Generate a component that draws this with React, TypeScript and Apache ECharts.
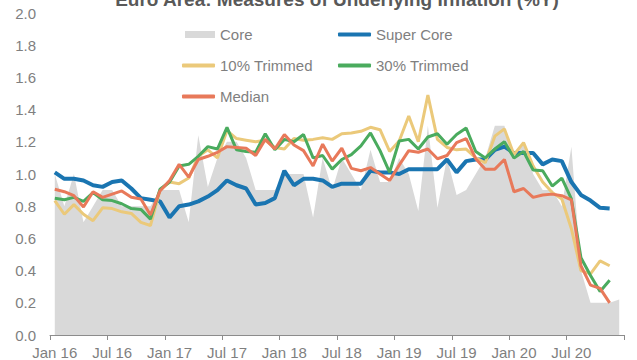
import React, { useEffect, useRef } from "react";
import * as echarts from "echarts";

const monthNames = ["Jan", "Feb", "Mar", "Apr", "May", "Jun", "Jul", "Aug", "Sep", "Oct", "Nov", "Dec"];
const years = ["16", "17", "18", "19", "20"];
const categories = years.flatMap((y) => monthNames.map((m) => `${m} ${y}`));

const titleText = "Euro Area: Measures of Underlying Inflation (%Y)";

const core = [
  1.0, 0.8, 1.0, 0.7, 0.8, 0.9, 0.9, 0.8, 0.8, 0.8, 0.8, 0.9,
  0.9, 0.9, 0.7, 1.24, 0.92, 1.1, 1.2, 1.2, 1.1, 0.9, 0.9, 0.9,
  1.0, 1.0, 1.0, 0.73, 1.1, 0.9, 1.1, 1.0, 0.9, 1.15, 0.95, 0.95,
  1.1, 1.0, 0.77, 1.3, 0.79, 1.1, 0.87, 0.9, 1.0, 1.1, 1.3, 1.3,
  1.1, 1.2, 1.0, 0.9, 0.9, 0.8, 1.17, 0.4, 0.2, 0.2, 0.2, 0.22,
];

const superCore = [
  1.01, 0.97, 0.97, 0.96, 0.93, 0.92, 0.95, 0.96, 0.91, 0.85, 0.84, 0.83,
  0.73, 0.8, 0.81, 0.83, 0.86, 0.9, 0.96, 0.93, 0.91, 0.81, 0.82, 0.85,
  1.02, 0.93, 0.97, 0.97, 0.96, 0.92, 0.94, 0.94, 0.94, 1.02, 1.01, 1.01,
  1.0, 1.03, 1.03, 1.03, 1.03, 1.09, 1.01, 1.08, 1.09, 1.09, 1.15, 1.17,
  1.13, 1.13, 1.13, 1.06, 1.09, 1.08, 0.95, 0.87, 0.835, 0.79, 0.785,
];

const trimmed10 = [
  0.835, 0.75, 0.81, 0.75, 0.71, 0.79, 0.785, 0.765, 0.755, 0.7, 0.68, 0.9,
  0.95, 0.94, 0.975, 1.11, 1.15, 1.1, 1.27, 1.22, 1.21, 1.2, 1.21, 1.165,
  1.155, 1.22, 1.21, 1.215, 1.225, 1.215, 1.25, 1.255, 1.265, 1.29, 1.275, 1.14,
  1.205, 1.36, 1.2, 1.49, 1.215, 1.165, 1.15, 1.155, 1.1, 1.07, 1.235, 1.28,
  1.12, 1.195, 1.05, 0.95, 0.885, 0.845, 0.66, 0.4, 0.38, 0.46, 0.43,
];

const trimmed30 = [
  0.85, 0.84, 0.855, 0.83, 0.885, 0.84, 0.835, 0.815, 0.785, 0.78, 0.72, 0.905,
  0.95, 1.05, 1.06, 1.11, 1.17, 1.155, 1.29, 1.15, 1.14, 1.135, 1.25, 1.15,
  1.215, 1.2, 1.245, 1.1, 1.115, 1.03, 1.09, 1.12, 1.175, 1.255, 1.145, 1.01,
  1.205, 1.215, 1.155, 1.23, 1.25, 1.185, 1.245, 1.285, 1.14, 1.1, 1.155, 1.2,
  1.1, 1.14, 1.025, 1.02, 0.925, 0.975, 0.845, 0.48, 0.37, 0.27, 0.34,
];

const median = [
  0.905, 0.89, 0.865, 0.795, 0.89, 0.855, 0.875, 0.895, 0.855, 0.845, 0.745, 0.895,
  0.96, 1.06, 0.98, 1.09, 1.11, 1.135, 1.17, 1.165, 1.16, 1.115, 1.215, 1.155,
  1.245, 1.18, 1.145, 1.05, 1.185, 1.08, 1.16, 1.035, 1.02, 1.04, 1.0, 0.96,
  1.055, 1.145, 1.135, 1.155, 1.095, 1.115, 1.195, 1.22, 1.095, 1.03, 1.03, 1.09,
  0.89, 0.91, 0.855, 0.87, 0.875, 0.865, 0.84, 0.43, 0.31, 0.29, 0.2,
];

const FONT = "'Liberation Sans', Arial, sans-serif";
const TEXT = "#7f7f7f";

export default function App() {
  const ref = useRef<HTMLDivElement>(null);

  useEffect(() => {
    document.body.style.margin = "0";
    if (!ref.current) return;
    const chart = echarts.init(ref.current, null, { renderer: "svg" });

    const legendText = { color: TEXT, fontSize: 15, fontFamily: FONT };
    const lineLegend = (name: string, left: number, top: number, color: string) => ({
      data: [name],
      left,
      top,
      padding: 0,
      icon: "roundRect",
      itemWidth: 33,
      itemHeight: 4,
      itemStyle: { color },
      textStyle: legendText,
      selectedMode: false,
    });

    chart.setOption({
      animation: false,
      backgroundColor: "#ffffff",
      graphic: [
        {
          type: "text",
          x: 337,
          y: 9,
          style: {
            text: titleText,
            align: "center",
            verticalAlign: "bottom",
            fill: "#595959",
            font: `bold 19px ${FONT}`,
          },
        },
      ],
      legend: [
        {
          data: ["Core"],
          left: 185,
          top: 27,
          padding: 0,
          icon: "rect",
          itemWidth: 30,
          itemHeight: 7,
          itemStyle: { color: "#d9d9d9" },
          textStyle: legendText,
          selectedMode: false,
        },
        lineLegend("Super Core", 338, 27, "#1a75b1"),
        lineLegend("10% Trimmed", 182, 58, "#ebc97a"),
        lineLegend("30% Trimmed", 338, 58, "#4aab5e"),
        lineLegend("Median", 182, 89, "#e8795a"),
      ],
      grid: { left: 50, right: 13, top: 13, bottom: 22, containLabel: false },
      xAxis: {
        type: "category",
        data: categories,
        boundaryGap: true,
        axisLine: { lineStyle: { color: "#8c8c8c", width: 1 } },
        axisTick: { show: true, interval: 5, length: 5, lineStyle: { color: "#8c8c8c" } },
        axisLabel: {
          interval: 5,
          color: TEXT,
          fontSize: 15,
          fontFamily: FONT,
          margin: 10,
        },
        splitLine: { show: false },
      },
      yAxis: {
        type: "value",
        min: 0,
        max: 2,
        interval: 0.2,
        axisLine: { show: false },
        axisTick: { show: false },
        splitLine: { show: false },
        axisLabel: {
          color: TEXT,
          fontSize: 15,
          fontFamily: FONT,
          margin: 14,
          formatter: (v: number) => v.toFixed(1),
        },
      },
      series: [
        {
          name: "Core",
          type: "line",
          data: core,
          symbol: "none",
          lineStyle: { width: 0, color: "#d9d9d9" },
          itemStyle: { color: "#d9d9d9" },
          areaStyle: { color: "#d9d9d9", opacity: 1 },
          z: 1,
        },
        {
          name: "Super Core",
          type: "line",
          data: superCore,
          symbol: "none",
          lineStyle: { width: 4, color: "#1a75b1" },
          itemStyle: { color: "#1a75b1" },
          z: 2,
        },
        {
          name: "10% Trimmed",
          type: "line",
          data: trimmed10,
          symbol: "none",
          lineStyle: { width: 3, color: "#ebc97a" },
          itemStyle: { color: "#ebc97a" },
          z: 3,
        },
        {
          name: "30% Trimmed",
          type: "line",
          data: trimmed30,
          symbol: "none",
          lineStyle: { width: 3, color: "#4aab5e" },
          itemStyle: { color: "#4aab5e" },
          z: 4,
        },
        {
          name: "Median",
          type: "line",
          data: median,
          symbol: "none",
          lineStyle: { width: 3, color: "#e8795a" },
          itemStyle: { color: "#e8795a" },
          z: 5,
        },
      ],
    });

    return () => chart.dispose();
  }, []);

  return <div ref={ref} style={{ width: 637, height: 360 }} />;
}
